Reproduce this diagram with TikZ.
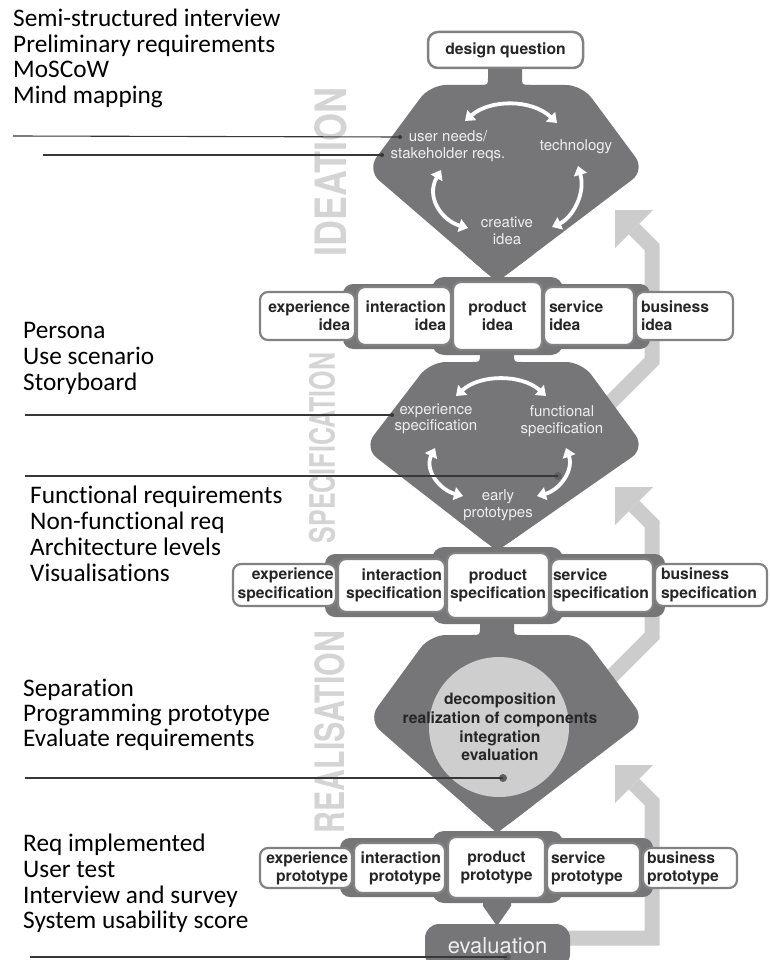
\documentclass[tikz,border=0pt]{standalone}
\usepackage{fontspec}
\setsansfont{TeX Gyre Heros}
\newfontfamily\notefont{Carlito}[Ligatures=NoCommon]
\usetikzlibrary{arrows.meta}

\definecolor{hexgray}{RGB}{118,118,121}
\definecolor{rimgray}{RGB}{130,130,130}
\definecolor{loopgray}{RGB}{204,204,204}
\definecolor{wordgray}{RGB}{212,212,212}
\definecolor{inktxt}{RGB}{38,38,38}
\definecolor{hextxt}{RGB}{238,238,238}
\definecolor{circgray}{RGB}{206,206,206}
\definecolor{pinink}{RGB}{55,55,55}

\begin{document}
\begin{tikzpicture}[x=1pt,y=-1pt,
  rowbox/.style={draw=rimgray, line width=2.2pt, fill=white, rounded corners=8pt,
    text=inktxt, inner ysep=0pt, font=\sffamily\bfseries\fontsize{15.7}{18}\selectfont},
  specbox/.style={rowbox, font=\sffamily\bfseries\fontsize{15.7}{18.5}\selectfont},
  hextext/.style={text=hextxt, align=center, inner sep=0pt,
    font=\sffamily\fontsize{15}{16.5}\selectfont},
  phase/.style={rotate=90, text=wordgray, inner sep=0pt},
  note/.style={anchor=base west, inner sep=0pt, text=black,
    font=\notefont\fontsize{25.3}{26}\selectfont},
  dbl/.style={draw=white, line width=3.8pt,
    {Triangle[width=13pt,length=9pt]}-{Triangle[width=13pt,length=9pt]}},
  loop/.style={draw=loopgray, line width=15pt, line join=miter, line cap=butt},
  pin/.style={draw=pinink, line width=1.1pt},
  dotsm/.style={circle, fill=pinink, inner sep=0pt, minimum size=4pt},
  dotbig/.style={circle, fill=pinink!80, inner sep=0pt, minimum size=8pt}]

\useasboundingbox (0,0) rectangle (769,960);

% ---------- feedback loops (drawn first, they run behind everything) ----------
\coordinate (l1a) at (565,938);
\coordinate (l1b) at (652,938);
\coordinate (l1c) at (652,802);
\coordinate (l1d) at (634,784);
\draw[loop] (l1a) -- (l1b) -- (l1c) -- (l1d);
\fill[loopgray] (615,765) -- (653,765) -- (615,803) -- cycle;

\coordinate (l2a) at (606,682);
\coordinate (l2b) at (652,636);
\coordinate (l2c) at (652,524);
\coordinate (l2d) at (634,506);
\draw[loop] (l2a) -- (l2b) -- (l2c) -- (l2d);
\fill[loopgray] (615,487) -- (653,487) -- (615,525) -- cycle;

\coordinate (l3a) at (606,407);
\coordinate (l3b) at (652,361);
\coordinate (l3c) at (652,247);
\coordinate (l3d) at (634,229);
\draw[loop] (l3a) -- (l3b) -- (l3c) -- (l3d);
\fill[loopgray] (615,210) -- (653,210) -- (615,248) -- cycle;

% ---------- phase words ----------
\node[phase] (wIdea) at (331,172) {\resizebox{169pt}{32pt}{\sffamily\bfseries IDEATION}};
\node[phase] (wSpec) at (322,448) {\resizebox{190pt}{26pt}{\sffamily\bfseries SPECIFICATION}};
\node[phase] (wReal) at (330,732) {\resizebox{202pt}{30pt}{\sffamily\bfseries REALISATION}};

% ---------- hexagonal phase blocks ----------
\fill[hexgray, rounded corners=16pt] (430,85) -- (582,85) -- (645,170) -- (497,282) -- (367,170) -- cycle;
\fill[hexgray] (464.5,254) -- (534,254) -- (497,282) -- cycle;

\fill[hexgray, rounded corners=16pt] (430,362) -- (582,362) -- (645,448) -- (497,551) -- (364,448) -- cycle;
\fill[hexgray] (463,524) -- (535,524) -- (497,551) -- cycle;

\fill[hexgray, rounded corners=16pt] (430,635) -- (582,635) -- (645,720) -- (497,833) -- (368,720) -- cycle;
\fill[hexgray] (465,805) -- (533.6,805) -- (497,833) -- cycle;

% necks between blocks
\fill[hexgray] (480,85) .. controls (488,85) .. (488,77) -- (488,66) -- (522,66)
  -- (522,77) .. controls (522,85) .. (530,85) -- cycle;
\fill[hexgray] (472,362) .. controls (480,362) .. (480,354) -- (480,345) -- (514,345)
  -- (514,354) .. controls (514,362) .. (522,362) -- cycle;
\fill[hexgray] (472,635) .. controls (480,635) .. (480,627) -- (480,615) -- (514,615)
  -- (514,627) .. controls (514,635) .. (522,635) -- cycle;
\fill[hexgray] (483,895) -- (511,895) -- (511,906) -- (497,926) -- (483,906) -- cycle;

% row backings
\fill[hexgray, rounded corners=10pt] (343,284) rectangle (650,349);
\fill[hexgray, rounded corners=12pt] (432,277) rectangle (563,355);
\fill[hexgray, rounded corners=10pt] (325,554) rectangle (665,617);
\fill[hexgray, rounded corners=12pt] (432,547) rectangle (563,624);
\fill[hexgray, rounded corners=10pt] (340,838) rectangle (653,897);
\fill[hexgray, rounded corners=12pt] (432,831) rectangle (563,903);

% ---------- design question ----------
\node[rowbox, line width=2.5pt, rounded corners=10pt, minimum width=155pt,
  minimum height=36pt] (dq) at (505.5,50) {design question};

% ---------- idea row ----------
\node[rowbox, minimum width=95pt, minimum height=48pt, text width=85pt, inner xsep=5pt,
  align=right] (exI) at (307.5,316) {experience\\idea};
\node[rowbox, minimum width=94pt, minimum height=58pt, text width=84pt, inner xsep=5pt,
  align=right] (inI) at (404,316) {interaction\\idea};
\node[rowbox, minimum width=89pt, minimum height=68pt, text width=79pt, inner xsep=5pt,
  align=center] (prI) at (497.5,316) {product\\idea};
\node[rowbox, minimum width=90pt, minimum height=58pt, text width=80pt, inner xsep=5pt,
  align=left] (seI) at (589,316) {service\\idea};
\node[rowbox, minimum width=97pt, minimum height=48pt, text width=87pt, inner xsep=5pt,
  align=left] (buI) at (684.5,316) {business\\idea};

% ---------- specification row ----------
\node[specbox, minimum width=103pt, minimum height=42pt, text width=98pt, inner xsep=2.5pt,
  align=right] (exS) at (284.5,585) {experience\\specification};
\node[specbox, minimum width=107pt, minimum height=53pt, text width=101pt, inner xsep=3pt,
  align=right] (inS) at (391.5,585.5) {interaction\\specification};
\node[specbox, minimum width=102pt, minimum height=65pt, text width=98pt, inner xsep=2pt,
  align=center] (prS) at (498,585.5) {product\\specification};
\node[specbox, minimum width=102pt, minimum height=53pt, text width=98pt, inner xsep=2pt,
  align=left] (seS) at (602,585.5) {service\\specification};
\node[specbox, minimum width=112pt, minimum height=42pt, text width=100pt, inner xsep=6pt,
  align=left] (buS) at (711,585) {business\\specification};

% ---------- prototype row ----------
\node[rowbox, minimum width=92pt, minimum height=40pt, text width=84pt, inner xsep=4pt,
  align=right] (exP) at (306,868) {experience\\prototype};
\node[rowbox, minimum width=91pt, minimum height=50pt, text width=83pt, inner xsep=4pt,
  align=right] (inP) at (399.5,868) {interaction\\prototype};
\node[rowbox, minimum width=97pt, minimum height=61pt, text width=89pt, inner xsep=4pt,
  align=center] (prP) at (496.5,867.5) {product\\prototype};
\node[rowbox, minimum width=93pt, minimum height=50pt, text width=85pt, inner xsep=4pt,
  align=left] (seP) at (593.5,868) {service\\prototype};
\node[rowbox, minimum width=94pt, minimum height=40pt, text width=86pt, inner xsep=4pt,
  align=left] (buP) at (690,868) {business\\prototype};

% ---------- evaluation ----------
\node[fill=hexgray, rounded corners=14pt, minimum width=145pt, minimum height=44pt,
  text=hextxt, font=\sffamily\fontsize{22}{24}\selectfont] (ev) at (497.5,946) {evaluation};

% ---------- contents of the blocks ----------
\node[hextext] (un) at (448,146) {user needs/\\stakeholder reqs.};
\node[hextext] (tc) at (576,147) {technology};
\node[hextext] (ci) at (507,231) {creative\\idea};
\draw[dbl] (465,121) .. controls (490,99) and (532,99) .. (557,123);
\draw[dbl] (441,170) .. controls (425,198) and (443,221) .. (468,228);
\draw[dbl] (578,166) .. controls (586,194) and (572,218) .. (552,227);

\node[hextext] (es) at (436,419) {experience\\specification};
\node[hextext] (fs) at (562,421) {functional\\specification};
\node[hextext] (ep) at (498,505) {early\\prototypes};
\draw[dbl] (456,396) .. controls (480,374) and (522,374) .. (546,396);
\draw[dbl] (435,448) .. controls (424,470) and (440,490) .. (463,496);
\draw[dbl] (566,448) .. controls (574,470) and (560,490) .. (537,496);

\node[circle, fill=circgray, minimum size=140pt, inner sep=0pt] (rcirc) at (499,727) {};
\node[align=center, text=inktxt, inner sep=0pt,
  font=\sffamily\bfseries\fontsize{15.7}{18.7}\selectfont] (rc) at (500,727)
  {decomposition\\realization of components\\integration\\evaluation};

% ---------- method notes ----------
\node[note] (m1) at (13,27) {Semi-structured interview};
\node[note] (m2) at (13,53) {Preliminary requirements};
\node[note] (m3) at (13,78) {MoSCoW};
\node[note] (m4) at (13,104) {Mind mapping};

\node[note] (p1) at (23,338) {Persona};
\node[note] (p2) at (23,364) {Use scenario};
\node[note] (p3) at (23,390) {Storyboard};

\node[note] (f1) at (30,503) {Functional requirements};
\node[note] (f2) at (30,529) {Non-functional req};
\node[note] (f3) at (30,555) {Architecture levels};
\node[note] (f4) at (30,581) {Visualisations};

\node[note] (r1) at (23,696) {Separation};
\node[note] (r2) at (23,721) {Programming prototype};
\node[note] (r3) at (23,746) {Evaluate requirements};

\node[note] (t1) at (23,851) {Req implemented};
\node[note] (t2) at (23,877) {User test};
\node[note] (t3) at (23,903) {Interview and survey};
\node[note] (t4) at (23,928) {System usability score};

% ---------- pointer lines ----------
\coordinate (qa) at (13,136);
\node[dotsm] (qa2) at (400,137) {};
\draw[pin] (qa) -- (qa2.center);
\coordinate (qb) at (43,155);
\node[dotsm] (qb2) at (382,155) {};
\draw[pin] (qb) -- (qb2.center);

\coordinate (qc) at (25,415);
\node[dotsm] (qc2) at (392,415) {};
\draw[pin] (qc) -- (qc2.center);
\coordinate (qd) at (25,476);
\node[dotbig] (qd2) at (558,476) {};
\draw[pin] (qd) -- (qd2.center);

\coordinate (qe) at (25,778);
\node[dotbig] (qe2) at (503,778) {};
\draw[pin] (qe) -- (qe2.center);

\coordinate (qf) at (30,957);
\node[dotbig] (qf2) at (507,957) {};
\draw[pin] (qf) -- (qf2.center);

\end{tikzpicture}
\end{document}
